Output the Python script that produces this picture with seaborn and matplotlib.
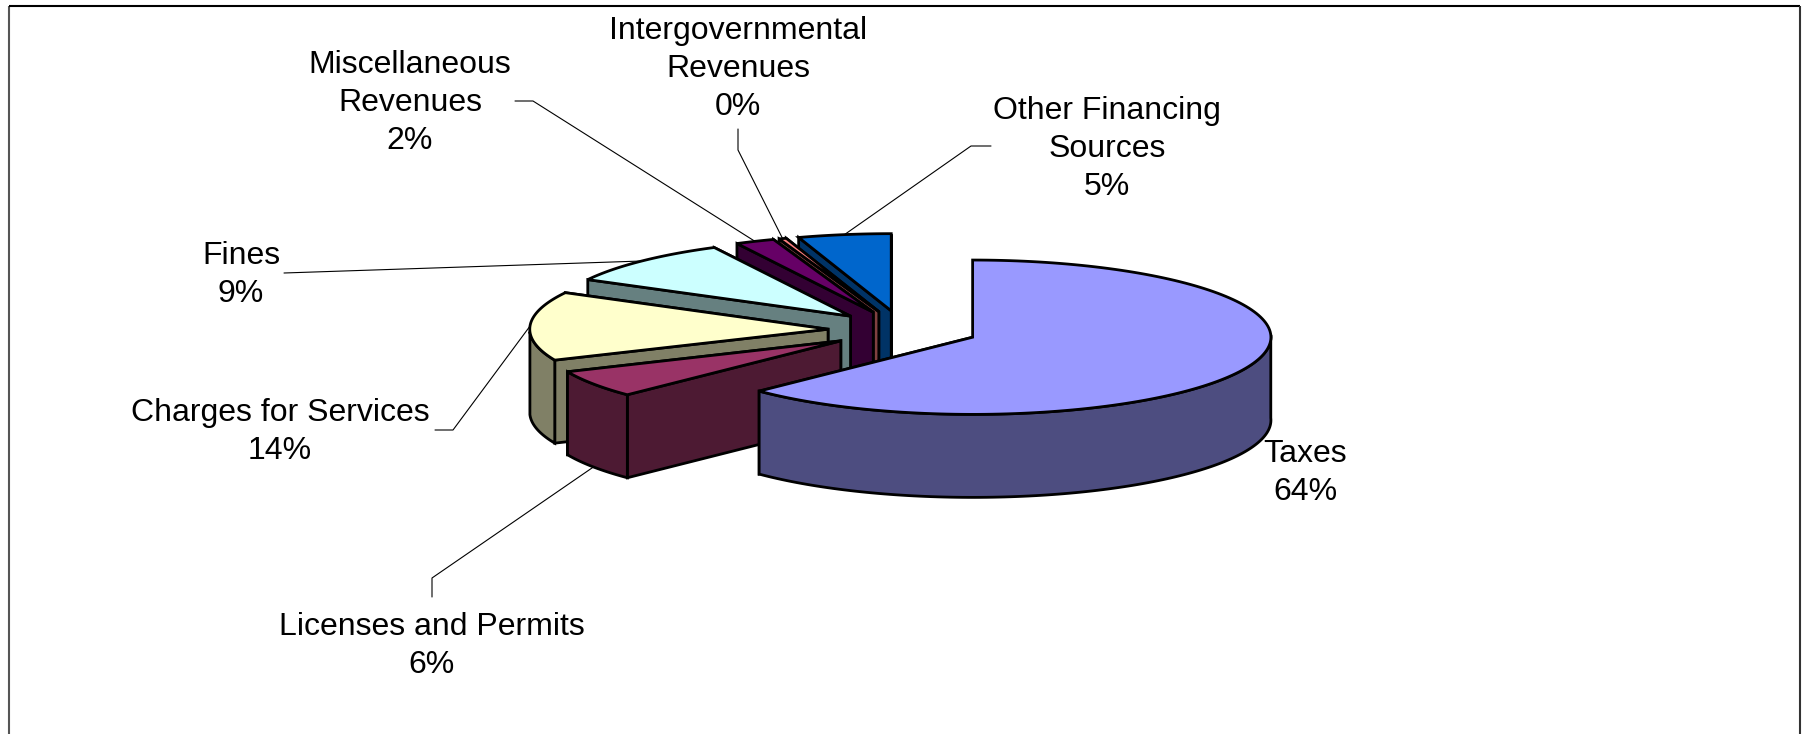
import numpy as np
import matplotlib
matplotlib.use("Agg")
import matplotlib.pyplot as plt
import seaborn as sns

# Revenue shares by source, in percent, clockwise from twelve o'clock
categories = ["Taxes", "Licenses and Permits", "Charges for Services", "Fines",
              "Miscellaneous Revenues", "Intergovernmental Revenues",
              "Other Financing Sources"]
shares = [63.5, 5.6, 14.0, 9.4, 2.1, 0.4, 5.0]
label_lines = [["Taxes"], ["Licenses and Permits"], ["Charges for Services"], ["Fines"],
               ["Miscellaneous", "Revenues"], ["Intergovernmental", "Revenues"],
               ["Other Financing", "Sources"]]

top_colors = ["#9999FF", "#993366", "#FFFFCC", "#CCFFFF", "#660066", "#FF8080", "#0066CC"]

# Layout in figure pixels
WIDTH, HEIGHT = 1806, 734
CENTER = (903.0, 330.0)
RADIUS = 298.3
TILT = 0.2587
DEPTH = 83.0
EXPLODE = 75.0
SKEW = 3.5            # foreshortening of angles toward the front-left of the tilted disc
EDGE = 2.0

label_centers = [(1305, 473), (432, 646), (280, 432), (241, 275),
                 (410, 103), (738, 69), (1107, 149)]
leader_starts = [None,
                 [(432, 597), (432, 578)],
                 [(435, 430), (453, 430)],
                 [(284, 273)],
                 [(515, 101), (533, 101)],
                 [(738, 129), (738, 150)],
                 [(991, 146), (971, 146)]]

sns.set_theme(style="white")
plt.rcParams["font.family"] = ["Liberation Sans", "DejaVu Sans"]
palette = sns.color_palette(top_colors)
wall_palette = [tuple(c * 0.5 for c in col) for col in palette]


def warp(deg):
    deg = np.asarray(deg, dtype=float)
    return deg - SKEW * np.sin(np.radians(deg) / 2) ** 2


def project(origin, deg, radius=RADIUS, drop=0.0):
    t = np.radians(warp(deg))
    return np.column_stack([origin[0] + radius * np.sin(t),
                            origin[1] - radius * TILT * np.cos(t) + drop])


def wall(ax, color, pts_top):
    poly = np.vstack([pts_top, pts_top[::-1] + [0, DEPTH]])
    ax.fill(poly[:, 0], poly[:, 1], facecolor=color, edgecolor="black",
            linewidth=EDGE, joinstyle="miter")


fig = plt.figure(figsize=(WIDTH / 100, HEIGHT / 100), dpi=100)
ax = fig.add_axes([0, 0, 1, 1])
ax.set_xlim(0, WIDTH)
ax.set_ylim(HEIGHT, 0)
ax.axis("off")

# Outer chart frame, open at the bottom edge
ax.plot([9, 9], [HEIGHT, 6], color="#555555", lw=1.5, solid_capstyle="butt")
ax.plot([9, 1800], [6, 6], color="black", lw=1.5, solid_capstyle="butt")
ax.plot([1800, 1800], [6, HEIGHT], color="#333333", lw=1.5, solid_capstyle="butt")

total = sum(shares)
sweeps = np.array(shares) / total * 360
starts = np.concatenate([[0], np.cumsum(sweeps)[:-1]])
stops = starts + sweeps
mids = (starts + stops) / 2

origins = []
for m in mids:
    origins.append(project(CENTER, [m], radius=EXPLODE)[0])

# Leader lines run from each label to the middle of its slice's rim
for i, pts in enumerate(leader_starts):
    if pts is None:
        continue
    front = 90 < mids[i] < 270
    rim = project(origins[i], [mids[i]], drop=DEPTH if front else 0.0)[0]
    line = np.vstack([pts, rim])
    ax.plot(line[:, 0], line[:, 1], color="black", lw=0.8, zorder=1)

# Painter's order: back slices first, Taxes last
for i in [6, 5, 4, 3, 2, 1, 0]:
    o, a, b = origins[i], starts[i], stops[i]
    arc = np.linspace(a, b, 160)
    top = np.vstack([[o], project(o, arc)])

    wall(ax, wall_palette[i], np.vstack([[o], project(o, [b])]))
    wall(ax, wall_palette[i], np.vstack([[o], project(o, [a])]))
    lo, hi = max(a, 90.0), min(b, 270.0)
    if lo < hi:
        wall(ax, wall_palette[i], project(o, np.linspace(lo, hi, 120)))
    ax.fill(top[:, 0], top[:, 1], facecolor=palette[i], edgecolor="black",
            linewidth=EDGE, joinstyle="miter")

for name_lines, share, (x, y) in zip(label_lines, shares, label_centers):
    text = "\n".join(name_lines + [f"{share:.0f}%"])
    ax.text(x, y, text, ha="center", va="center", fontsize=23, color="black",
            linespacing=1.34, zorder=5)

fig.savefig("out.png", dpi=100, facecolor="white")
